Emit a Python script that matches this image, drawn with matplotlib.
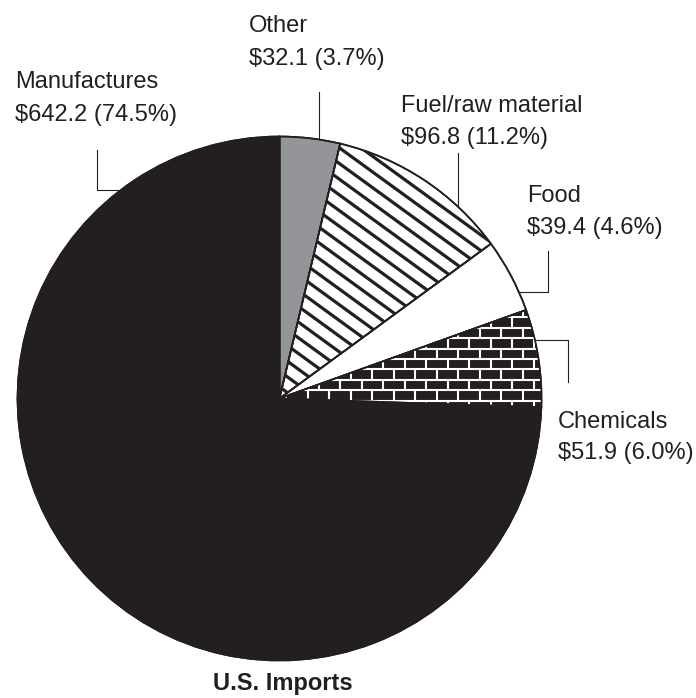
import numpy as np
import matplotlib.pyplot as plt
from matplotlib.collections import LineCollection
from matplotlib.patches import Wedge

# U.S. imports by category, $ billions
categories = ['Other', 'Fuel/raw material', 'Food', 'Chemicals', 'Manufactures']
values = [32.1, 96.8, 39.4, 51.9, 642.2]
shares = [3.7, 11.2, 4.6, 6.0, 74.5]

INK = '#231f20'
colors = ['#939598', 'white', 'white', INK, INK]

W, H = 696, 698
cx, cy, R = 279.5, H - 398.5, 262

plt.rcParams['font.family'] = ['Liberation Sans', 'DejaVu Sans']

fig = plt.figure(figsize=(W / 100, H / 100), dpi=100)
ax = fig.add_axes([0, 0, 1, 1])
wedges, _ = ax.pie(values, colors=colors, startangle=90, counterclock=False,
                   center=(cx, cy), radius=R,
                   wedgeprops=dict(edgecolor=INK, linewidth=1.2))
ax.set_xlim(0, W)
ax.set_ylim(0, H)
ax.set_aspect('equal')
ax.axis('off')


def stripes(patch, angle, gap, lw, color):
    t = np.radians(angle)
    d = np.array([np.cos(t), np.sin(t)])
    n = np.array([-np.sin(t), np.cos(t)])
    c = np.array([cx, cy])
    segs = [[c + n * k - d * 2 * R, c + n * k + d * 2 * R]
            for k in np.arange(-2 * R, 2 * R, gap)]
    lc = LineCollection(segs, colors=color, linewidths=lw, zorder=2)
    ax.add_collection(lc)
    lc.set_clip_path(patch)


def bricks(patch, row_h, brick_w, lw, color):
    segs = []
    for i, y in enumerate(np.arange(cy - R, cy + R, row_h)):
        segs.append([(cx - R, y), (cx + R, y)])
        off = (i % 2) * brick_w / 2
        for x in np.arange(cx - R + off, cx + R, brick_w):
            segs.append([(x, y), (x, y + row_h)])
    lc = LineCollection(segs, colors=color, linewidths=lw, zorder=2)
    ax.add_collection(lc)
    lc.set_clip_path(patch)


# diagonal hatching on fuel, white brickwork on chemicals
stripes(wedges[1], -36, 12.7, 2.3, INK)
bricks(wedges[3], 10.4, 21.5, 1.5, 'white')

# outlines back on top of the fills
for w in wedges:
    ax.add_patch(Wedge(w.center, w.r, w.theta1, w.theta2, fill=False,
                       edgecolor=INK, linewidth=1.2, zorder=3))


def px(x, y):
    return x, H - y


def rim_y(x):
    # image-space y of the upper rim at image-space x
    return H - (cy + np.sqrt(R ** 2 - (x - cx) ** 2))


def rim_x(y, side):
    dy = (H - y) - cy
    return cx + side * np.sqrt(R ** 2 - dy ** 2)


leaders = [
    [(319, 92), (319, rim_y(319))],
    [(458, 153), (458, rim_y(458))],
    [(548, 251), (548, 292), (rim_x(292, 1), 292)],
    [(568, 382), (568, 340), (rim_x(340, 1), 340)],
    [(97, 150), (97, 190), (rim_x(190, -1), 190)],
]
for pts in leaders:
    xs, ys = zip(*[px(x, y) for x, y in pts])
    ax.plot(xs, ys, color=INK, linewidth=0.8, zorder=4)

# label anchors: left x, baselines of both lines
label_pos = [(249, 32, 65), (401, 112, 144), (527, 202, 234),
             (558, 428, 459), (15, 88, 121)]
for name, v, s, (x, y1, y2) in zip(categories, values, shares, label_pos):
    ax.text(*px(x, y1), name, fontsize=17, color=INK, va='baseline', ha='left')
    ax.text(*px(x, y2), f'${v:.1f} ({s:.1f}%)', fontsize=17, color=INK,
            va='baseline', ha='left')

ax.text(*px(283, 690), 'U.S. Imports', fontsize=17, fontweight='bold',
        color=INK, va='baseline', ha='center')

fig.savefig('out.png', dpi=100)
